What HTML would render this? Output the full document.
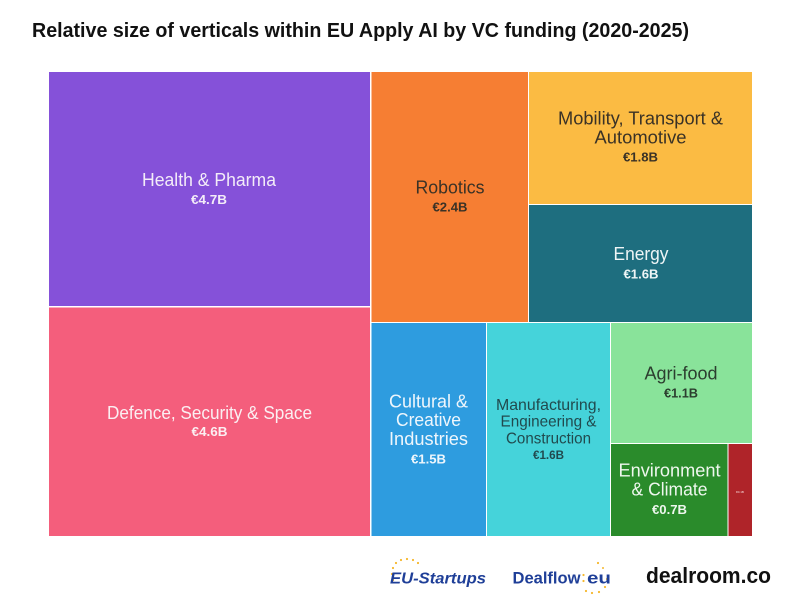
<!DOCTYPE html>
<html><head><meta charset="utf-8"><style>
html,body{margin:0;padding:0;background:#fff;}
svg{display:block;}
text{font-family:"Liberation Sans",Arial,sans-serif;}
</style></head><body>
<svg width="800" height="615" viewBox="0 0 800 615" xmlns="http://www.w3.org/2000/svg">
<rect width="800" height="615" fill="#fff"/>
<text x="32" y="37" font-size="20" font-weight="bold" fill="#111" textLength="657" lengthAdjust="spacingAndGlyphs">Relative size of verticals within EU Apply AI by VC funding (2020-2025)</text>

<rect x="49" y="72" width="321" height="234" fill="#8551D9"/>
<rect x="49" y="307.5" width="321" height="228.5" fill="#F45E7C"/>
<rect x="371.5" y="72" width="156.5" height="250" fill="#F67E33"/>
<rect x="529" y="72" width="223" height="132" fill="#FBBB43"/>
<rect x="529" y="205" width="223" height="117" fill="#1E6E7F"/>
<rect x="371.5" y="323" width="114.5" height="213" fill="#2E9CDF"/>
<rect x="487" y="323" width="123" height="213" fill="#45D3DA"/>
<rect x="611" y="323" width="141" height="120" fill="#89E39A"/>
<rect x="611" y="444" width="116.5" height="92" fill="#2A8B2B"/>
<rect x="728.5" y="444" width="23.5" height="92" fill="#AF2429"/>

<g text-anchor="middle">
<text x="209" y="186" font-size="18" fill="#F3ECF8" textLength="134" lengthAdjust="spacingAndGlyphs">Health &amp; Pharma</text>
<text x="209" y="204" font-size="13" font-weight="bold" fill="#F3ECF8" textLength="36" lengthAdjust="spacingAndGlyphs">€4.7B</text>

<text x="209.5" y="419" font-size="18" fill="#FBEFF2" textLength="205" lengthAdjust="spacingAndGlyphs">Defence, Security &amp; Space</text>
<text x="209.5" y="436" font-size="13" font-weight="bold" fill="#FBEFF2" textLength="36" lengthAdjust="spacingAndGlyphs">€4.6B</text>

<text x="450" y="193.5" font-size="18" fill="#3a3226" textLength="69" lengthAdjust="spacingAndGlyphs">Robotics</text>
<text x="450" y="211.5" font-size="13" font-weight="bold" fill="#3a3226" textLength="35" lengthAdjust="spacingAndGlyphs">€2.4B</text>

<text x="640.5" y="124.5" font-size="18" fill="#3a3226" textLength="165" lengthAdjust="spacingAndGlyphs">Mobility, Transport &amp;</text>
<text x="640.5" y="143.5" font-size="18" fill="#3a3226" textLength="92" lengthAdjust="spacingAndGlyphs">Automotive</text>
<text x="640.5" y="161.5" font-size="13" font-weight="bold" fill="#3a3226" textLength="35" lengthAdjust="spacingAndGlyphs">€1.8B</text>

<text x="641" y="260" font-size="18" fill="#EEF5F6" textLength="55" lengthAdjust="spacingAndGlyphs">Energy</text>
<text x="641" y="278.5" font-size="13" font-weight="bold" fill="#EEF5F6" textLength="35" lengthAdjust="spacingAndGlyphs">€1.6B</text>

<text x="428.5" y="407.5" font-size="18" fill="#EEF6FC" textLength="79" lengthAdjust="spacingAndGlyphs">Cultural &amp;</text>
<text x="428.5" y="426" font-size="18" fill="#EEF6FC" textLength="65" lengthAdjust="spacingAndGlyphs">Creative</text>
<text x="428.5" y="445" font-size="18" fill="#EEF6FC" textLength="79" lengthAdjust="spacingAndGlyphs">Industries</text>
<text x="428.5" y="463.5" font-size="13" font-weight="bold" fill="#EEF6FC" textLength="35" lengthAdjust="spacingAndGlyphs">€1.5B</text>

<text x="548.5" y="410" font-size="16" fill="#214a4e" textLength="105" lengthAdjust="spacingAndGlyphs">Manufacturing,</text>
<text x="548.5" y="426.5" font-size="16" fill="#214a4e" textLength="96" lengthAdjust="spacingAndGlyphs">Engineering &amp;</text>
<text x="548.5" y="443.5" font-size="16" fill="#214a4e" textLength="85" lengthAdjust="spacingAndGlyphs">Construction</text>
<text x="548.5" y="459" font-size="12" font-weight="bold" fill="#214a4e" textLength="31" lengthAdjust="spacingAndGlyphs">€1.6B</text>

<text x="681" y="379.5" font-size="18" fill="#2c3e2f" textLength="73" lengthAdjust="spacingAndGlyphs">Agri-food</text>
<text x="681" y="397.5" font-size="13" font-weight="bold" fill="#2c3e2f" textLength="34" lengthAdjust="spacingAndGlyphs">€1.1B</text>

<text x="669.5" y="476.5" font-size="18" fill="#EEF7EE" textLength="102" lengthAdjust="spacingAndGlyphs">Environment</text>
<text x="669.5" y="495.5" font-size="18" fill="#EEF7EE" textLength="76" lengthAdjust="spacingAndGlyphs">&amp; Climate</text>
<text x="669.5" y="514" font-size="13" font-weight="bold" fill="#EEF7EE" textLength="35" lengthAdjust="spacingAndGlyphs">€0.7B</text>

<text x="740" y="493" font-size="3" fill="#f5dede">€0.1B</text>
</g>

<!-- logos -->
<g fill="#F5B82E">
<circle cx="393" cy="568" r="1.1"/><circle cx="396" cy="563" r="1.1"/><circle cx="401" cy="560" r="1.1"/>
<circle cx="407" cy="559" r="1.1"/><circle cx="413" cy="560" r="1.1"/><circle cx="418" cy="563" r="1.1"/>
<circle cx="392" cy="574" r="1.1"/><circle cx="393" cy="580" r="1.1"/>
<circle cx="598" cy="563" r="1.1"/><circle cx="603" cy="568" r="1"/><circle cx="607" cy="579" r="1.1"/>
<circle cx="605" cy="587" r="1.1"/><circle cx="599" cy="592" r="1.1"/><circle cx="592" cy="593" r="1.1"/><circle cx="586" cy="591" r="1.1"/>
<circle cx="583.5" cy="575" r="1.1"/><circle cx="583.5" cy="581" r="1.1"/>
</g>
<text x="390" y="583.5" font-size="16" font-weight="bold" font-style="italic" fill="#1F3F98" textLength="96" lengthAdjust="spacingAndGlyphs">EU-Startups</text>
<text x="512.5" y="583.5" font-size="17" font-weight="bold" fill="#1F3F98" textLength="68" lengthAdjust="spacingAndGlyphs">Dealflow</text>
<text x="587" y="583.5" font-size="17" font-weight="bold" fill="#1F3F98" textLength="24" lengthAdjust="spacingAndGlyphs">eu</text>
<text x="646" y="583" font-size="22" font-weight="bold" fill="#111" textLength="125" lengthAdjust="spacingAndGlyphs">dealroom.co</text>
</svg>
</body></html>
